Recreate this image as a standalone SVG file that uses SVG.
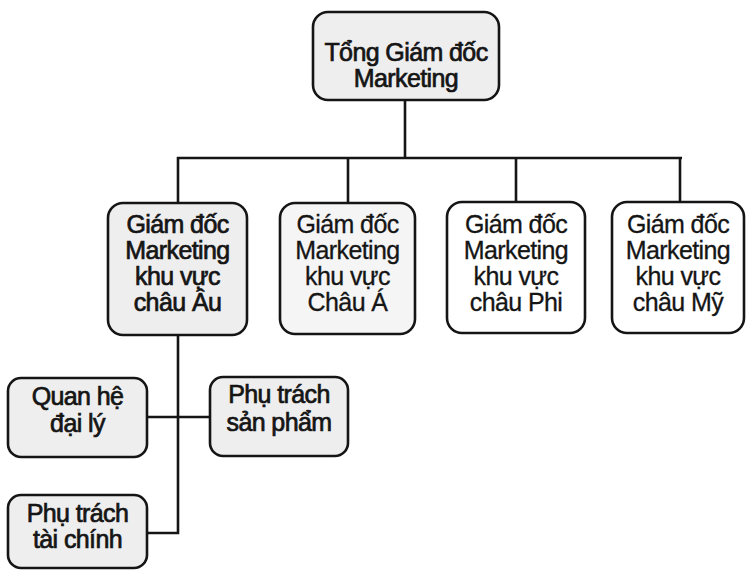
<svg xmlns="http://www.w3.org/2000/svg" width="747" height="571" viewBox="0 0 747 571">
  <style>
    .box { stroke: #151515; stroke-width: 2.6; }
    .shaded { fill: #eeeeee; }
    .light { fill: #f5f5f5; }
    .plain { fill: #ffffff; }
    .lbl { font-family: "Liberation Sans", Arial, sans-serif; font-size: 25px; letter-spacing: -0.6px; fill: #151515; text-anchor: middle; stroke: #151515; stroke-width: 0.3; }
    .heavy { stroke-width: 0.7; }
    .wire { fill: none; stroke: #151515; stroke-width: 2.6; }
  </style>
  <rect width="747" height="571" fill="#ffffff"/>

  <!-- connectors -->
  <g id="connectors">
    <line class="wire" x1="405" y1="100" x2="405" y2="158"/>
    <line class="wire" x1="177" y1="158" x2="682" y2="158"/>
    <line class="wire" x1="178" y1="157" x2="178" y2="203"/>
    <line class="wire" x1="348" y1="157" x2="348" y2="203"/>
    <line class="wire" x1="516" y1="157" x2="516" y2="203"/>
    <line class="wire" x1="680" y1="157" x2="680" y2="203"/>
    <polyline class="wire" points="178,335 178,533 147,533"/>
    <line class="wire" x1="147" y1="417" x2="210" y2="417"/>
  </g>

  <!-- top -->
  <g id="tong-giam-doc">
    <rect class="box shaded" x="313" y="12" width="186" height="88" rx="15"/>
    <text class="lbl heavy" x="406" y="61">Tổng Giám đốc</text>
    <text class="lbl heavy" x="406" y="87">Marketing</text>
  </g>

  <!-- regional directors -->
  <g id="chau-au">
    <rect class="box shaded" x="108" y="203" width="139" height="132" rx="15"/>
    <text class="lbl heavy" x="177.5" y="233">Giám đốc</text>
    <text class="lbl heavy" x="177.5" y="259">Marketing</text>
    <text class="lbl heavy" x="177.5" y="285">khu vực</text>
    <text class="lbl heavy" x="177.5" y="311">châu Âu</text>
  </g>
  <g id="chau-a">
    <rect class="box light" x="280" y="203" width="135" height="131" rx="15"/>
    <text class="lbl" x="347.5" y="233">Giám đốc</text>
    <text class="lbl" x="347.5" y="259">Marketing</text>
    <text class="lbl" x="347.5" y="285">khu vực</text>
    <text class="lbl" x="347.5" y="311">Châu Á</text>
  </g>
  <g id="chau-phi">
    <rect class="box plain" x="447" y="202" width="138" height="131" rx="15"/>
    <text class="lbl" x="516" y="233">Giám đốc</text>
    <text class="lbl" x="516" y="259">Marketing</text>
    <text class="lbl" x="516" y="285">khu vực</text>
    <text class="lbl" x="516" y="311">châu Phi</text>
  </g>
  <g id="chau-my">
    <rect class="box plain" x="612" y="202" width="132" height="131" rx="15"/>
    <text class="lbl" x="678" y="233">Giám đốc</text>
    <text class="lbl" x="678" y="259">Marketing</text>
    <text class="lbl" x="678" y="285">khu vực</text>
    <text class="lbl" x="678" y="311">châu Mỹ</text>
  </g>

  <!-- European sub-units -->
  <g id="quan-he-dai-ly">
    <rect class="box shaded" x="8" y="378" width="139" height="79" rx="13"/>
    <text class="lbl heavy" x="77.5" y="405">Quan hệ</text>
    <text class="lbl heavy" x="77.5" y="432">đại lý</text>
  </g>
  <g id="phu-trach-san-pham">
    <rect class="box shaded" x="210" y="377" width="138" height="79" rx="13"/>
    <text class="lbl heavy" x="279" y="403">Phụ trách</text>
    <text class="lbl heavy" x="279" y="431">sản phẩm</text>
  </g>
  <g id="phu-trach-tai-chinh">
    <rect class="box shaded" x="8" y="495" width="139" height="73" rx="13"/>
    <text class="lbl heavy" x="77.5" y="522">Phụ trách</text>
    <text class="lbl heavy" x="77.5" y="548">tài chính</text>
  </g>
</svg>
